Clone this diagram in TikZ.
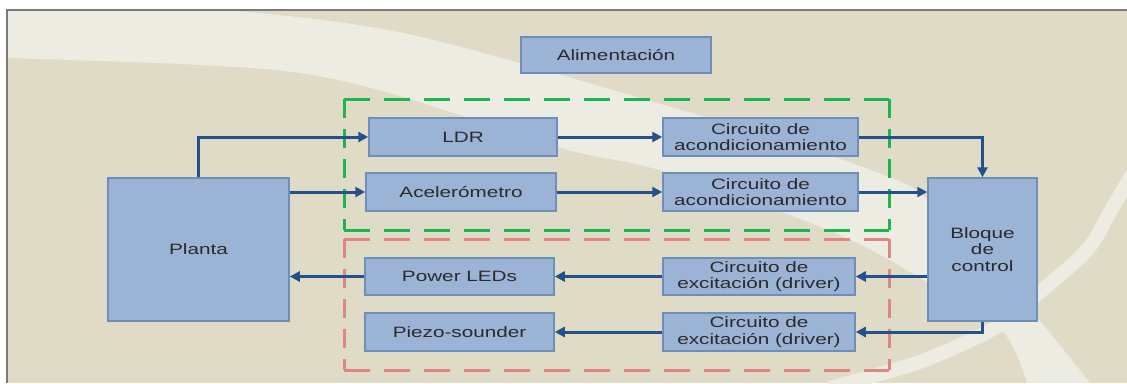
\documentclass[tikz,border=0pt]{standalone}
\usepackage{fontspec}
\setmainfont{Liberation Sans}[FakeStretch=1.38]
\usetikzlibrary{arrows.meta}
\definecolor{bg}{HTML}{E0DBC6}
\definecolor{band}{HTML}{EDECE2}
\definecolor{boxfill}{HTML}{9BB3D4}
\definecolor{boxline}{HTML}{6E8EBC}
\definecolor{arrowc}{HTML}{24508C}
\definecolor{gdash}{HTML}{1EB450}
\definecolor{rdash}{HTML}{E08585}
\definecolor{framec}{HTML}{7A7A7A}
\definecolor{txt}{HTML}{2A2A2A}
\begin{document}
\begin{tikzpicture}[x=1pt,y=-1pt,
  blk/.style={draw=boxline, fill=boxfill, line width=1.5pt, inner sep=0pt,
    text=txt, align=center, font=\fontsize{15}{16.5}\selectfont},
  conn/.style={draw=arrowc, line width=3pt, -{Triangle[length=10pt,width=10pt]}},
  gbox/.style={draw=gdash, line width=3pt},
  rbox/.style={draw=rdash, line width=3pt},
  hdash/.style={dash pattern=on 26pt off 14pt},
  vdash/.style={dash pattern=on 19pt off 11pt}]
\useasboundingbox (0,0) rectangle (1127,383);
% background
\fill[white] (0,0) rectangle (1127,383);
\begin{scope}
\clip (7,10) rectangle (1127,383);
\fill[bg] (7,10) rectangle (1127,383);
\fill[band] (0,0) -- (0,58) -- plot[smooth, tension=0.6] coordinates {(7,58) (100,61) (200,65) (300,73) (400,96) (561,148) (666,172) (833,232) (927,282) (1000,328) (1027,383)}
  -- plot[smooth, tension=0.6] coordinates {(1090,383) (1037,318) (940,210) (863,167) (647,100) (403,33) (233,11)} -- (233,0) -- cycle;
\draw[band, line width=14pt] plot[smooth, tension=0.6] coordinates {(1140,160) (1110,212) (1087,250) (1040,292) (1000,325) (930,358) (880,374) (830,388)};
\end{scope}
\draw[framec, line width=2.5pt] (7,383) -- (7,10) -- (1127,10);
% dashed groups
\coordinate (g1) at (344,99);
\coordinate (g2) at (889,230);
\coordinate (r1) at (344,239);
\coordinate (r2) at (889,370);
\draw[gbox, hdash] (g1) -- (g1 -| g2);
\draw[gbox, hdash] (g1 |- g2) -- (g2);
\draw[gbox, vdash] (g1) -- (g1 |- g2);
\draw[gbox, vdash] (g1 -| g2) -- (g2);
\draw[rbox, hdash] (r1) -- (r1 -| r2);
\draw[rbox, hdash] (r1 |- r2) -- (r2);
\draw[rbox, vdash] (r1) -- (r1 |- r2);
\draw[rbox, vdash] (r1 -| r2) -- (r2);
% blocks
\node[blk, minimum width=190pt, minimum height=36pt] (alim) at (616,55) {Alimentación};
\node[blk, minimum width=181pt, minimum height=143pt] (planta) at (198.5,249.5) {Planta};
\node[blk, minimum width=188pt, minimum height=38pt] (ldr) at (463,137) {LDR};
\node[blk, minimum width=190pt, minimum height=38pt] (acel) at (461,192) {Acelerómetro};
\node[blk, minimum width=195pt, minimum height=38pt] (ca1) at (760.5,137) {Circuito de\\acondicionamiento};
\node[blk, minimum width=195pt, minimum height=38pt] (ca2) at (760.5,192) {Circuito de\\acondicionamiento};
\node[blk, minimum width=109pt, minimum height=143pt] (bc) at (982.5,249.5) {Bloque\\de\\control};
\node[blk, minimum width=189pt, minimum height=37pt] (pled) at (459.5,276.5) {Power LEDs};
\node[blk, minimum width=189pt, minimum height=38pt] (piezo) at (459.5,332) {Piezo-sounder};
\node[blk, minimum width=192pt, minimum height=37pt] (ce1) at (759,276.5) {Circuito de\\excitación (driver)};
\node[blk, minimum width=192pt, minimum height=38pt] (ce2) at (759,332) {Circuito de\\excitación (driver)};
% connectors
\draw[conn] (planta.north) |- (ldr.west);
\draw[conn] (planta.east |- acel.west) -- (acel.west);
\draw[conn] (ldr.east) -- (ca1.west);
\draw[conn] (acel.east) -- (ca2.west);
\draw[conn] (ca1.east) -| (bc.north);
\draw[conn] (ca2.east) -- (bc.west |- ca2.east);
\draw[conn] (bc.west |- ce1.east) -- (ce1.east);
\draw[conn] (ce1.west) -- (pled.east);
\draw[conn] (pled.west) -- (planta.east |- pled.west);
\draw[conn] (bc.south) |- (ce2.east);
\draw[conn] (ce2.west) -- (piezo.east);
\end{tikzpicture}
\end{document}
